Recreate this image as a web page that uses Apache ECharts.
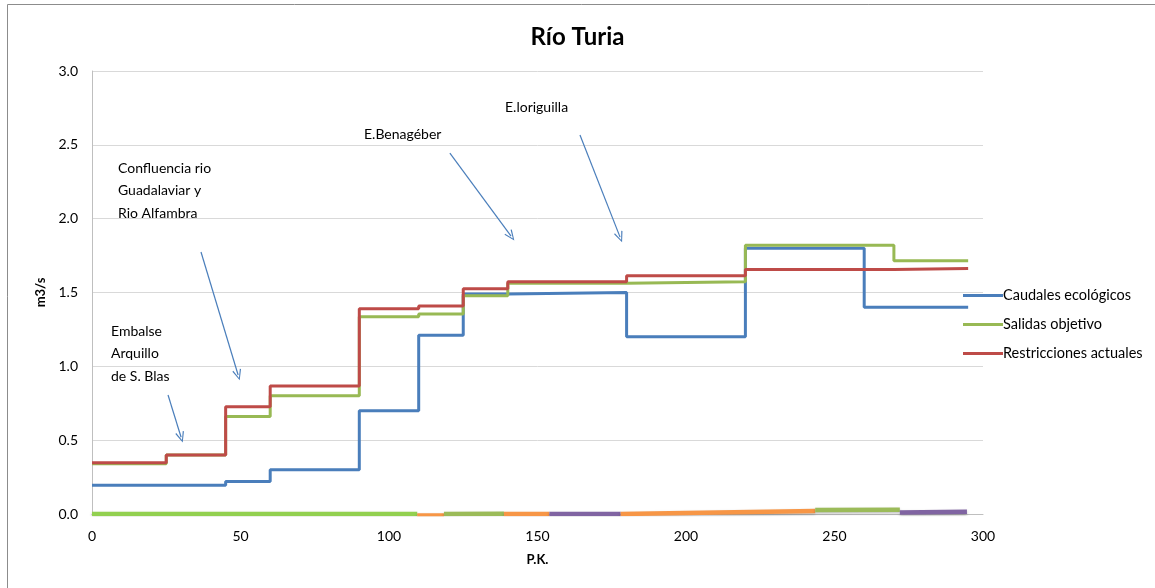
<!DOCTYPE html>
<html>
<head>
<meta charset="utf-8">
<script src="https://cdn.jsdelivr.net/npm/echarts@6/dist/echarts.min.js"></script>
<style>
html,body{margin:0;padding:0;background:#fff;}
#chart{width:1155px;height:588px;}
</style>
</head>
<body>
<div id="chart"></div>
<script>
// ---- Data ----
var title = 'Río Turia';
var seriesNames = ['Caudales ecológicos', 'Salidas objetivo', 'Restricciones actuales'];
var caudales = [[0,0.195],[45,0.22],[60,0.30],[90,0.70],[110,1.21],[125,1.49],[140,1.50],[180,1.20],[220,1.80],[260,1.40],[295,1.40]];
var salidas = [[0,0.34],[25,0.40],[45,0.66],[60,0.80],[90,1.335],[110,1.355],[125,1.478],[140,1.562],[180,1.573],[220,1.82],[270,1.715],[295,1.715]];
var restricciones = [[0,0.347],[25,0.40],[45,0.727],[60,0.867],[90,1.39],[110,1.408],[125,1.525],[140,1.572],[180,1.614],[220,1.655],[270,1.663],[295,1.663]];
// small segments near zero (not in legend)
var segA = [[0,0.0],[109.5,0.0]];
var segB = [[109.5,-0.01],[118.5,-0.01]];
var segC = [[118.5,0.0],[138.7,0.002]];
var segD = [[138.7,0.0],[154,0.0]];
var segE = [[154,0.0],[178,0.0]];
var segF = [[178,0.0],[243.5,0.02]];
var segG = [[243.5,0.027],[272,0.028]];
var segH = [[272,0.01],[294.6,0.016]];
var xTicks = {min:0, max:300, interval:50};
var yTicks = {min:0, max:3, interval:0.5};
// annotations: arrow start/end in data units
var arrows = [
  [[25.6,0.806],[30,0.52]],
  [[36.7,1.774],[49.2,0.941]],
  [[120.5,2.444],[141.1,1.882]],
  [[164.3,2.566],[177.8,1.875]]
];
var notes = [
  {lines:['Embalse','Arquillo','de S. Blas'], x:111, y:320},
  {lines:['Confluencia rio','Guadalaviar y','Rio Alfambra'], x:118, y:157},
  {lines:['E.Benagéber'], x:364, y:123},
  {lines:['E.loriguilla'], x:505, y:96}
];

var FONT = 'Lato, "Open Sans", sans-serif';
var chart = echarts.init(document.getElementById('chart'), null, {renderer:'canvas'});

function segSeries(data, color) {
  return {
    type:'line', data:data, symbol:'none', silent:true,
    lineStyle:{color:color, width:4.5, shadowColor:'rgba(0,0,0,0.25)', shadowBlur:3, shadowOffsetY:1.5},
    z:1
  };
}
var arrowPath = 'path://M5,0 L10,10 L8.8,10.6 L5,2.4 L1.2,10.6 L0,10 Z';

var series = [
  {name:seriesNames[0], type:'line', step:'end', data:caudales, symbol:'none', lineStyle:{color:'#4A7EBB', width:3}, itemStyle:{color:'#4A7EBB'}, z:3},
  {name:seriesNames[1], type:'line', step:'end', data:salidas, symbol:'none', lineStyle:{color:'#98B954', width:3}, itemStyle:{color:'#98B954'}, z:4},
  {name:seriesNames[2], type:'line', step:'end', data:restricciones, symbol:'none', lineStyle:{color:'#BE4B48', width:3}, itemStyle:{color:'#BE4B48'}, z:5},
  segSeries(segA, '#92D050'),
  segSeries(segB, '#F79646'),
  segSeries(segC, '#9BBB59'),
  segSeries(segD, '#F79646'),
  segSeries(segE, '#8064A2'),
  segSeries(segF, '#F79646'),
  segSeries(segG, '#9BBB59'),
  segSeries(segH, '#8064A2'),
  {
    type:'line', data:[], silent:true,
    markLine:{
      silent:true, animation:false,
      symbol:['none', arrowPath], symbolSize:[9,11],
      label:{show:false},
      lineStyle:{color:'#4A7EBB', width:1.2, type:'solid'},
      emphasis:{disabled:true},
      data: arrows.map(function(a){ return [{coord:a[0]},{coord:a[1]}]; })
    }
  }
];

var graphics = [
  {type:'rect', shape:{x:7.5, y:4.5, width:1200, height:700}, style:{fill:'none', stroke:'#8c8c8c', lineWidth:1}, silent:true}
];
notes.forEach(function(n){
  graphics.push({type:'text', left:n.x, top:n.y, silent:true,
    style:{text:n.lines.join('\n'), font:'14px ' + FONT, fill:'#000', lineHeight:22.5}});
});

chart.setOption({
  animation:false,
  backgroundColor:'#fff',
  title:{text:title, left:'center', top:20, textStyle:{fontFamily:FONT, fontSize:24, fontWeight:'bold', color:'#000'}},
  grid:{left:92, right:172, top:71, bottom:74},
  legend:{
    data:seriesNames, orient:'vertical', left:958, top:283, itemGap:14,
    itemWidth:40, itemHeight:3, icon:'rect',
    textStyle:{fontFamily:FONT, fontSize:14.5, color:'#000', padding:[0,0,0,-5]}
  },
  xAxis:{
    type:'value', min:xTicks.min, max:xTicks.max, interval:xTicks.interval,
    name:'P.K.', nameLocation:'middle', nameGap:39,
    nameTextStyle:{fontFamily:FONT, fontSize:13, fontWeight:'bold', color:'#000'},
    axisLine:{show:true, onZero:false, lineStyle:{color:'#BFBFBF'}},
    axisTick:{show:false},
    splitLine:{show:false},
    axisLabel:{fontFamily:FONT, fontSize:14, color:'#000', margin:15}
  },
  yAxis:{
    type:'value', min:yTicks.min, max:yTicks.max, interval:yTicks.interval,
    name:'m3/s', nameLocation:'middle', nameGap:36, nameRotate:90,
    nameTextStyle:{fontFamily:FONT, fontSize:13, fontWeight:'bold', color:'#000'},
    axisLine:{show:true, lineStyle:{color:'#BFBFBF'}},
    axisTick:{show:false},
    splitLine:{show:true, lineStyle:{color:'#D9D9D9', width:1}},
    axisLabel:{fontFamily:FONT, fontSize:14, color:'#000', margin:14, formatter:function(v){return v.toFixed(1);}}
  },
  graphic:graphics,
  series:series
});
</script>
</body>
</html>
